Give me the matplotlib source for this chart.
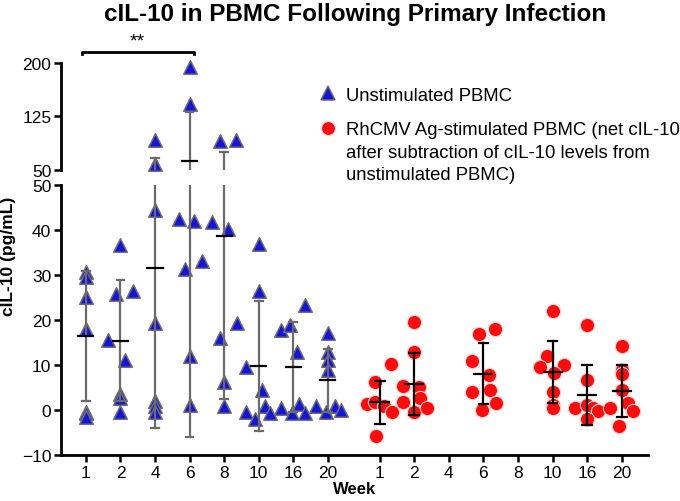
import numpy as np
import matplotlib
matplotlib.use('Agg')
from matplotlib import pyplot as plt
from matplotlib.lines import Line2D

plt.rcParams['font.family'] = ['Liberation Sans', 'DejaVu Sans']

week_labels = ['1', '2', '4', '6', '8', '10', '16', '20']

# unstimulated PBMC, one list per week
blue_vals = [
    [30.6, 29.5, 25.1, 17.9, -0.4, -0.7, -1.5],
    [36.6, 25.7, 26.4, 15.6, 11.2, 3.6, 2.6, -0.5],
    [92, 59, 44.4, 19.4, 2.1, 0.8, -0.4],
    [194, 143, 42.5, 42.1, 31.3, 33.2, 11.9, 1.1],
    [90, 91.5, 41.8, 40.3, 16.0, 19.4, 6.3, 0.8],
    [36.9, 26.5, 9.6, 4.4, -0.4, -1.9, 0.8, -0.7],
    [17.7, 19.0, 23.4, 13.0, 1.3, 0.4, -0.6, -0.6],
    [17.2, 13.0, 11.2, 9.0, 0.8, -0.5, 0.8, 0.0],
]
blue_jitter = [
    [0, 0, 0, 0, 0, 0, 0],
    [0, -0.13, 0.35, -0.36, 0.13, 0, 0, 0],
    [0, 0, 0, 0, 0, 0, 0],
    [0, 0, -0.32, 0.12, -0.12, 0.36, 0, 0],
    [-0.12, 0.35, -0.36, 0.12, -0.12, 0.37, 0, 0],
    [0, 0, -0.38, 0.1, -0.38, -0.1, 0.18, 0.34],
    [-0.35, -0.1, 0.33, 0.12, 0.17, -0.35, -0.05, 0.33],
    [0, 0, 0, 0, -0.33, -0.05, 0.2, 0.37],
]
blue_mean = [16.4, 15.4, 31.6, 62.3, 38.6, 9.8, 9.6, 6.6]
blue_sd = [14.4, 13.4, 35.5, 68.4, 36.2, 14.5, 10.0, 7.0]

# RhCMV Ag-stimulated (net), weeks 1, 2, 6, 10, 16, 20
red_idx = [0, 1, 3, 5, 6, 7]
red_vals = [
    [6.3, 10.3, 1.3, 1.7, 0.8, -0.4, -5.7],
    [19.6, 12.9, 5.4, 5.2, 1.7, 2.6, -0.4, 0.5],
    [16.9, 18.1, 11.0, 7.8, 4.5, 4.0, 1.5, -0.1],
    [22.0, 11.9, 9.6, 9.9, 8.2, 4.0, 1.1, 0.5],
    [18.8, 6.7, 0.4, 1.1, 0.4, -0.2, -2.0],
    [14.3, 9.0, 8.0, 4.5, 1.5, -0.2, -3.5, 0.5],
]
red_jitter = [
    [-0.13, 0.34, -0.36, -0.13, 0.12, 0.36, -0.1],
    [0, 0, -0.34, 0.15, -0.34, 0.17, 0, 0.36],
    [-0.12, 0.34, -0.34, 0.15, 0.2, -0.34, 0.37, -0.05],
    [0, -0.17, -0.37, 0.34, 0.05, 0, 0, 0],
    [0, 0, -0.34, 0, 0.17, 0.3, 0],
    [0, 0, 0, 0, 0.19, 0.34, -0.07, -0.34],
]
red_mean = [1.75, 5.85, 8.05, 8.4, 3.35, 4.3]
red_sd = [4.75, 6.85, 6.75, 6.9, 6.75, 5.8]

legend_labels = ['Unstimulated PBMC',
                 'RhCMV Ag-stimulated PBMC (net cIL-10',
                 'after subtraction of cIL-10 levels from',
                 'unstimulated PBMC)']

BREAK = 50
blue_x = np.arange(8)
red_x = np.arange(8) + 8.5

blue_c, blue_edge, bar_grey = '#1414dc', '#6e6e6e', '#6b6b6b'
red_c, red_edge = '#ff0a0a', '#ffd6d6'

fig = plt.figure(figsize=(6.8, 5.02), dpi=100)
ax_top = fig.add_axes([0.0897, 0.6594, 0.8632, 0.2131])
ax_bot = fig.add_axes([0.0897, 0.0916, 0.8632, 0.5378])

for ax in (ax_top, ax_bot):
    # error bars (mean +/- SD) drawn in both panels, each clips to its own range
    for i in range(8):
        m, s, x = blue_mean[i], blue_sd[i], blue_x[i]
        ax.plot([x, x], [m - s, m + s], color=bar_grey, lw=1.6, zorder=4)
        for y in (m - s, m + s):
            ax.plot([x - 0.11, x + 0.11], [y, y], color=bar_grey, lw=1.6, zorder=4)
        ax.plot([x - 0.22, x + 0.22], [m, m], color='black', lw=1.6, zorder=5)
    for j, i in enumerate(red_idx):
        m, s, x = red_mean[j], red_sd[j], red_x[i]
        ax.plot([x, x], [m - s, m + s], color='black', lw=1.6, zorder=4)
        for y in (m - s, m + s):
            ax.plot([x - 0.14, x + 0.14], [y, y], color='black', lw=1.6, zorder=4)
        ax.plot([x - 0.26, x + 0.26], [m, m], color='black', lw=1.6, zorder=5)

# points: split between the two panels at the break
for i in range(8):
    v = np.array(blue_vals[i])
    xs = blue_x[i] + np.array(blue_jitter[i])
    hi = v > BREAK
    ax_top.scatter(xs[hi], v[hi], marker='^', s=95, c=blue_c, edgecolors=blue_edge,
                   linewidths=1.1, zorder=3, clip_on=False)
    ax_bot.scatter(xs[~hi], v[~hi], marker='^', s=95, c=blue_c, edgecolors=blue_edge,
                   linewidths=1.1, zorder=3, clip_on=False)
for j, i in enumerate(red_idx):
    v = np.array(red_vals[j])
    xs = red_x[i] + np.array(red_jitter[j])
    ax_bot.scatter(xs, v, marker='o', s=105, c=red_c, edgecolors=red_edge,
                   linewidths=0.8, zorder=3, clip_on=False)

xlim = (-0.72, 16.26)
ax_top.set_xlim(*xlim)
ax_bot.set_xlim(*xlim)
ax_top.set_ylim(50, 200)
ax_bot.set_ylim(-10, 50)
ax_top.set_yticks([50, 125, 200])
ax_bot.set_yticks([-10, 0, 10, 20, 30, 40, 50])

for ax in (ax_top, ax_bot):
    for sp in ('top', 'right'):
        ax.spines[sp].set_visible(False)
    ax.spines['left'].set_linewidth(2.0)
    ax.spines['bottom'].set_linewidth(2.0)
    ax.tick_params(length=5, width=1.8, labelsize=12.5, pad=2)
ax_top.spines['bottom'].set_visible(False)
ax_top.set_xticks([])

ax_bot.set_xticks(np.concatenate([blue_x, red_x]))
ax_bot.set_xticklabels(week_labels + week_labels)
ax_bot.set_xlabel('Week', fontsize=12, fontweight='bold', labelpad=1)
ax_bot.set_ylabel('cIL-10 (pg/mL)', fontsize=12.5, fontweight='bold')
ax_bot.yaxis.set_label_coords(-0.077, 0.74)

# significance bar between week 1 and week 6
ax_top.plot([-0.12, -0.12, 3.12, 3.12], [212, 216, 216, 212], color='black', lw=2,
            clip_on=False)
ax_top.text(1.5, 219, '**', ha='center', va='bottom', fontsize=14)

fig.text(0.522, 0.972, 'cIL-10 in PBMC Following Primary Infection', ha='center',
         va='center', fontsize=17.5, fontweight='bold')

handles = [
    Line2D([], [], ls='none', marker='^', ms=10, mfc=blue_c, mec=blue_edge, mew=1.1),
    Line2D([], [], ls='none', marker='o', ms=10, mfc=red_c, mec=red_edge, mew=0.8),
]
leg = fig.legend(handles, legend_labels[:2], loc='upper left',
                 bbox_to_anchor=(0.455, 0.84), frameon=False, fontsize=13.3,
                 handletextpad=0.4, labelspacing=0.95, handlelength=1.2,
                 borderaxespad=0)

# continuation lines of the second legend label, under its first line
fig.canvas.draw()
bb = leg.get_texts()[1].get_window_extent()
W, H = fig.bbox.width, fig.bbox.height
for k, line in enumerate(legend_labels[2:], start=1):
    fig.text(bb.x0 / W, (bb.y0 - 22.5 * k) / H, line, fontsize=13.3,
             ha='left', va='bottom')

fig.savefig('out.png', dpi=100)
